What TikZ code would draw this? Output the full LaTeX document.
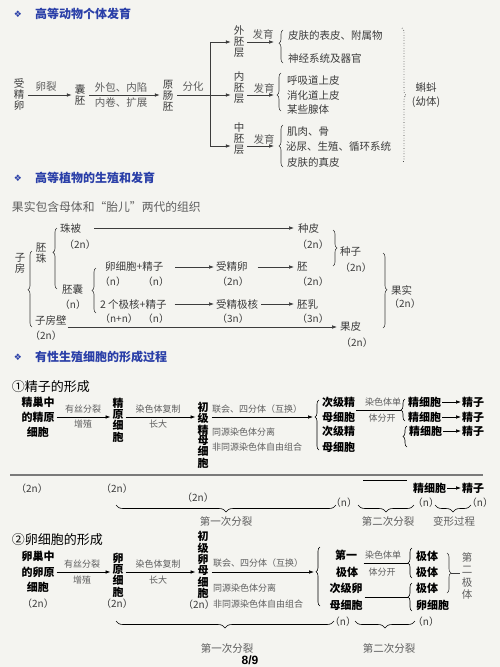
\documentclass[tikz,border=0pt]{standalone}
\usepackage{fontspec}
\newfontfamily\cjk{Noto Sans CJK SC}
\newfontfamily\djv{DejaVu Sans}
\newfontfamily\lsans{Liberation Sans}
\usetikzlibrary{arrows.meta,decorations.pathreplacing,calc}
\definecolor{bg}{HTML}{F4F4F0}
\definecolor{tblue}{HTML}{2A3FA8}
\definecolor{ink}{HTML}{3C3C3C}
\definecolor{lab}{HTML}{5E5E5E}
\definecolor{rulec}{HTML}{7A7A7A}
\begin{document}
\begin{tikzpicture}[x=1pt,y=-1pt,
  every node/.style={inner sep=0pt,outer sep=0pt,text=ink},
  tx/.style={font=\cjk\fontsize{10.5}{11}\selectfont},
  tw/.style={tx,anchor=west},
  lb/.style={font=\cjk\fontsize{10.5}{11}\selectfont,text=lab},
  pl/.style={font=\cjk\fontsize{10}{10}\selectfont},
  sm/.style={font=\cjk\fontsize{9}{10}\selectfont,text=lab},
  smw/.style={sm,anchor=west},
  bd/.style={font=\cjk\bfseries\fontsize{11}{15}\selectfont,text=black},
  bdw/.style={bd,anchor=west},
  vt/.style={align=center,font=\cjk\fontsize{10.5}{#1}\selectfont},
  vt/.default=11,
  vb/.style={align=center,font=\cjk\bfseries\fontsize{11}{#1}\selectfont,text=black},
  vb/.default=11.3,
  ttl/.style={anchor=west,font=\cjk\bfseries\fontsize{12}{12}\selectfont,text=tblue},
  dia/.style={font=\djv\fontsize{9}{9}\selectfont,text=tblue},
  hd/.style={anchor=west,font=\cjk\fontsize{13}{13}\selectfont,text=black},
  arr/.style={draw=ink,line width=0.6pt,-{Latex[length=5pt,width=3.6pt]}},
  barr/.style={draw=black,line width=0.7pt,-{Latex[length=5pt,width=3.6pt]}},
  ln/.style={draw=ink,line width=0.6pt},
  bln/.style={draw=black,line width=0.7pt},
  br/.style={decorate,decoration={brace,amplitude=4pt,aspect=#1},draw=ink,line width=0.6pt},
  br/.default=0.5,
  brh/.style={decorate,decoration={brace,amplitude=7pt,aspect=#1},draw=black,line width=0.6pt},
  brh/.default=0.5]
\useasboundingbox (0,0) rectangle (500,667);
\fill[bg] (0,0) rectangle (500,667);

% ===== Section 1 =====
\node[dia] (d1) at (18,14) {❖};
\node[ttl] (h1) at (35,14) {高等动物个体发育};
\node[vt] (sjl) at (19,95) {受\\精\\卵};
\node[vt] (np) at (80,95) {囊\\胚};
\node[vt] (ycp) at (168,96) {原\\肠\\胚};
\node[lb] (l1) at (46,87) {卵裂};
\node[lb] (l2) at (121,87) {外包、内陷};
\node[lb] (l3) at (121,103) {内卷、扩展};
\node[lb] (l4) at (193,87) {分化};
\draw[arr] ($(sjl.east)+(4,0)$) -- ($(np.west)+(-3,0)$);
\draw[arr] ($(np.east)+(4,0)$) -- ($(ycp.west |- np.west)+(-3,0)$);
\coordinate (sp1) at (210,42);
\coordinate (sp2) at (210,95);
\coordinate (sp3) at (210,146);
\draw[ln] ($(ycp.east |- sp2)+(4,0)$) -- (sp2);
\draw[ln] (sp1) -- (sp3);
\node[vt] (ec) at (239,42) {外\\胚\\层};
\node[vt] (en) at (239,87.5) {内\\胚\\层};
\node[vt] (me) at (239,139) {中\\胚\\层};
\draw[arr] (sp1) -- ($(ec.west |- sp1)+(-3,0)$);
\draw[arr] (sp2) -- ($(en.west |- sp2)+(-3,0)$);
\draw[arr] (sp3) -- ($(me.west |- sp3)+(-3,0)$);
\coordinate (f1) at (274,42);
\coordinate (f2) at (274,95);
\coordinate (f3) at (274,146);
\draw[arr] ($(ec.east |- f1)+(3,0)$) -- (f1);
\draw[arr] ($(en.east |- f2)+(3,0)$) -- (f2);
\draw[arr] ($(me.east |- f3)+(3,0)$) -- (f3);
\node[lb] (fy1) at (263,34) {发育};
\node[lb] (fy2) at (264,88) {发育};
\node[lb] (fy3) at (264,139) {发育};
\draw[br=0.6] (283,63) -- (283,30);
\draw[br=0.42] (281,111) -- (281,73);
\draw[br=0.5] (283,167) -- (283,125);
\node[tw] (a1) at (288,35) {皮肤的表皮、附属物};
\node[tw] (a2) at (288,58) {神经系统及器官};
\node[tw] (a3) at (287,80) {呼吸道上皮};
\node[tw] (a4) at (287,95) {消化道上皮};
\node[tw] (a5) at (287,110) {某些腺体};
\node[tw] (a6) at (287,132) {肌肉、骨};
\node[tw] (a7) at (286,147) {泌尿、生殖、循环系统};
\node[tw] (a8) at (287,162) {皮肤的真皮};
\draw[br=0.5,dotted,line width=0.8pt] (402,28) -- (402,163);
\node[tx] (kd) at (426,88) {蝌蚪};
\node[tx] (yt) at (426,102) {(幼体)};

% ===== Section 2 =====
\node[dia] (d2) at (18,178) {❖};
\node[ttl] (h2) at (35,178) {高等植物的生殖和发育};
\node[anchor=west,font=\cjk\fontsize{11.8}{12}\selectfont,text=lab] (sub) at (12,207) {果实包含母体和“胎儿”两代的组织};
\node[vt] (zf) at (20,263) {子\\房};
\draw[br=0.49] (32,327) -- (32,251);
\node[vt] (pz) at (41,253) {胚\\珠};
\draw[br=0.6] (57,289) -- (57,228);
\node[tw] (zb) at (60,228) {珠被};
\node[pl] (zb2) at (80,245) {（2n）};
\node[tw] (zp) at (298,229) {种皮};
\node[pl] (zp2) at (313,245) {（2n）};
\draw[arr] ($(zb.east)+(13,0)$) -- ($(zp.west |- zb.east)+(-4,0)$);
\node[tw] (pn) at (62,290) {胚囊};
\node[pl] (pn2) at (73,305) {（n）};
\draw[br=0.5] (96,313) -- (96,268);
\node[tw] (r1) at (105,267) {卵细胞+精子};
\node[pl] (r1a) at (113,282) {（n）};
\node[pl] (r1b) at (156,282) {（n）};
\node[tw] (sjl2) at (216,267) {受精卵};
\node[pl] (sjl2b) at (233,282) {（2n）};
\node[tw] (pei) at (297,267) {胚};
\node[pl] (pei2) at (313,282) {（2n）};
\draw[arr] ($(r1.east)+(12,0)$) -- ($(sjl2.west)+(-2,0)$);
\draw[arr] ($(sjl2.east)+(10,0)$) -- ($(pei.west)+(-3,0)$);
\node[tw] (r2) at (100,304) {2 个极核+精子};
\node[pl] (r2a) at (119,319) {（n+n）};
\node[pl] (r2b) at (156,319) {（n）};
\node[tw] (sjjh) at (216,304) {受精极核};
\node[pl] (sjjh2) at (233,319) {（3n）};
\node[tw] (pr) at (297,304) {胚乳};
\node[pl] (pr2) at (313,319) {（3n）};
\draw[arr] ($(r2.east)+(8,0)$) -- ($(sjjh.west)+(-2,0)$);
\draw[arr] ($(sjjh.east)+(3,0)$) -- ($(pr.west)+(-3,0)$);
\node[tw] (zfb) at (35,320) {子房壁};
\node[pl] (zfb2) at (46,336) {（2n）};
\node[tw] (gp) at (340,327) {果皮};
\node[pl] (gp2) at (357,343) {（2n）};
\draw[arr] ($(zfb.east |- gp.west)+(1,0)$) -- ($(gp.west)+(-3,0)$);
\draw[br=0.5] (333,230) -- (333,266);
\node[tw] (zz) at (340,252) {种子};
\node[pl] (zz2) at (356,268) {（2n）};
\draw[br=0.49] (383,253) -- (383,328);
\node[tw] (gs) at (391,290) {果实};
\node[pl] (gs2) at (405,304) {（2n）};

% ===== Section 3 =====
\node[dia] (d3) at (18,357) {❖};
\node[ttl] (h3) at (35,357) {有性生殖细胞的形成过程};
\node[hd] (s1) at (12,387) {①精子的形成};
\coordinate (R1) at (0,417);
\node[vb=15] (jc) at (38,417) {精巢中\\的精原\\细胞};
\node[vb] (jyx) at (118,420) {精\\原\\细\\胞};
\node[vb=10.1] (cj) at (203,435) {初\\级\\精\\母\\细\\胞};
\draw[barr] ($(jc.east |- R1)+(2,0)$) -- ($(jyx.west |- R1)+(-2,0)$);
\draw[barr] ($(jyx.east |- R1)+(2,0)$) -- ($(cj.west |- R1)+(-2,0)$);
\node[sm] (m1) at (83,409) {有丝分裂};
\node[sm] (m2) at (83,424) {增殖};
\node[sm] (m3) at (158,409) {染色体复制};
\node[sm] (m4) at (158,424) {长大};
\coordinate (b9t) at (313,417);
\draw[barr] ($(cj.east |- R1)+(3,0)$) -- (b9t);
\node[smw] (m5) at (212,409) {联会、四分体（互换）};
\node[smw] (m6) at (212,432) {同源染色体分离};
\node[smw] (m7) at (212,447) {非同源染色体自由组合};
\draw[br=0.66,draw=black] (319,450) -- (319,400);
\node[bdw] (c1) at (322,402) {次级精};
\node[bdw] (c2) at (322,417) {母细胞};
\node[bdw] (c3) at (322,431) {次级精};
\node[bdw] (c4) at (322,447) {母细胞};
\coordinate (b10t) at (401,410);
\draw[bln] ($(c2.east |- b10t)+(1,0)$) -- (b10t);
\node[sm] (m8) at (383,402) {染色体单};
\node[sm] (m9) at (382,418) {体分开};
\draw[br=0.5,draw=black] (405,421) -- (405,399);
\node[bdw] (j1) at (408,402) {精细胞};
\node[bdw] (j2) at (408,417) {精细胞};
\node[bdw] (z1) at (462,402) {精子};
\node[bdw] (z2) at (462,417) {精子};
\draw[barr] ($(j1.east)+(1,0)$) -- ($(z1.west)+(-1,0)$);
\draw[barr] ($(j2.east)+(1,0)$) -- ($(z2.west)+(-1,0)$);
\draw[br=0.5,draw=black] (407,447) -- (407,426);
\node[bdw] (j3) at (409,431) {精细胞};
\node[bdw] (z3) at (462,431) {精子};
\draw[barr] ($(j3.east)+(1,0)$) -- ($(z3.west)+(-1,0)$);
\draw[draw=rulec,line width=1.6pt] (10,475) -- (483,475);
\draw[bln] (363,480) -- (407,480);
\node[bdw] (j4) at (413,488) {精细胞};
\node[bdw] (z4) at (462,488) {精子};
\draw[barr] ($(j4.east)+(1,0)$) -- ($(z4.west)+(-1,0)$);
\node[pl] (n1) at (32,489) {（2n）};
\node[pl] (n2) at (117,489) {（2n）};
\node[pl] (n3) at (198,498) {（2n）};
\draw[brh] (336,505) -- (116,505);
\node[pl] (n4) at (344,503) {（n）};
\draw[brh] (414,505) -- (358,505);
\node[pl] (n5) at (426,503) {（n）};
\draw[brh] (471,505) -- (435,505);
\node[pl] (n6) at (480,503) {（n）};
\node[lb] (k1) at (226,521) {第一次分裂};
\node[lb] (k2) at (388,521) {第二次分裂};
\node[lb] (k3) at (454,521) {变形过程};

% ===== Section 4 =====
\node[hd] (s2) at (12,540) {②卵细胞的形成};
\coordinate (R2) at (0,572);
\node[vb=15.5] (lc) at (38,572) {卵巢中\\的卵原\\细胞};
\node[pl] (lc2) at (38,604) {（2n）};
\node[vb] (lyx) at (118,575) {卵\\原\\细\\胞};
\node[pl] (lyx2) at (117,604) {（2n）};
\node[vb=9.9] (cl) at (203,565) {初\\级\\卵\\母\\细\\胞};
\node[pl] (cl2) at (199,605) {（2n）};
\draw[barr] ($(lc.east |- R2)+(2,0)$) -- ($(lyx.west |- R2)+(-2,0)$);
\draw[barr] ($(lyx.east |- R2)+(2,0)$) -- ($(cl.west |- R2)+(-2,0)$);
\node[sm] (e1) at (82,564) {有丝分裂};
\node[sm] (e2) at (82,580) {增殖};
\node[sm] (e3) at (158,564) {染色体复制};
\node[sm] (e4) at (158,580) {长大};
\coordinate (b15t) at (314,572);
\draw[barr] ($(cl.east |- R2)+(3,0)$) -- (b15t);
\node[smw] (e5) at (213,563) {联会、四分体（互换）};
\node[smw] (e6) at (213,588) {同源染色体分离};
\node[smw] (e7) at (213,604) {非同源染色体自由组合};
\draw[br=0.58,draw=black] (320,606) -- (320,547);
\node[bd] (q1) at (346,555) {第一};
\node[bd] (q2) at (347,572) {极体};
\node[bd] (q3) at (346,588) {次级卵};
\node[bd] (q4) at (346,605) {母细胞};
\coordinate (b16t) at (408,563);
\draw[bln] ($(q3.east |- b16t)+(1,0)$) -- (b16t);
\node[sm] (e8) at (383,555) {染色体单};
\node[sm] (e9) at (382,572) {体分开};
\draw[br=0.5,draw=black] (412,578) -- (412,548);
\coordinate (b17t) at (408,597);
\draw[bln] ($(q3.east |- b17t)+(2,0)$) -- (b17t);
\draw[br=0.5,draw=black] (412,611) -- (412,583);
\node[bdw] (p1) at (416,556) {极体};
\node[bdw] (p2) at (416,572) {极体};
\node[bdw] (p3) at (416,588) {极体};
\node[bdw] (p4) at (416,605) {卵细胞};
\draw[br=0.5] (447,553) -- (447,593);
\coordinate (b18t) at (451,573);
\node[vt=12.3,text=lab] (dej) at (467,576) {第\\二\\极\\体};
\draw[ln] (b18t) -- ($(dej.west |- b18t)+(-2,0)$);
\draw[brh] (334,621) -- (116,621);
\node[pl] (o1) at (343,622) {（n）};
\draw[brh] (415,621) -- (355,621);
\node[pl] (o2) at (426,622) {（n）};
\node[lb] (k4) at (227,648) {第一次分裂};
\node[lb] (k5) at (389,648) {第二次分裂};
\node[font=\lsans\bfseries\fontsize{12}{12}\selectfont,text=black] (pg) at (250,660) {8/9};
\end{tikzpicture}
\end{document}
